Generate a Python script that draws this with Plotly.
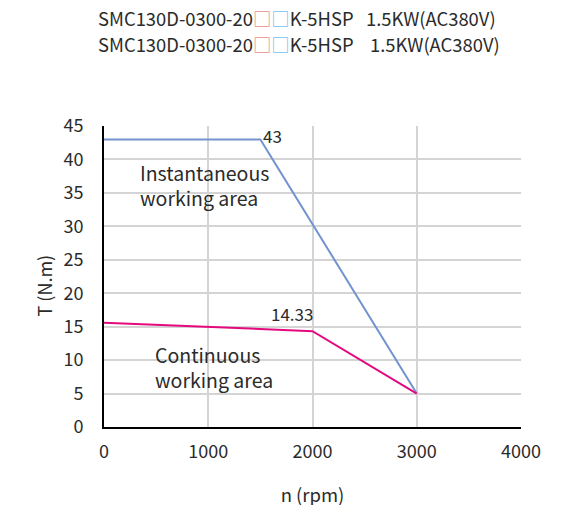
import plotly.graph_objects as go

# instantaneous (peak) torque curve
speed_inst = [0, 1500, 3000]
torque_inst = [43, 43, 5]
# continuous torque curve
speed_cont = [0, 2000, 3000]
torque_cont = [15.6, 14.33, 5]

x_ticks = [0, 1000, 2000, 3000, 4000]
y_ticks = [0, 5, 10, 15, 20, 25, 30, 35, 40, 45]

FONT = "Noto Sans CJK SC"
TXT = "#2b2b2b"
# page body has an 8px default margin, so shift the plot box accordingly
ML, MT, MR, MB = 96, 118, 50, 86
PLOT_W = 563 - ML - MR
PLOT_H = 505 - MT - MB

fig = go.Figure()
fig.add_trace(go.Scatter(x=speed_inst, y=torque_inst, mode="lines",
                         line=dict(color="#7292d0", width=2), showlegend=False))
fig.add_trace(go.Scatter(x=speed_cont, y=torque_cont, mode="lines",
                         line=dict(color="#e5097f", width=2), showlegend=False))

sq = ('<span style="color:#f08a8a">□</span>'
      '<span style="color:#6cc4ee">□</span>')
sp = "\u00a0"
titles = [
    "SMC130D-0300-20" + sq + "K-5HSP" + sp * 3 + "1.5KW(AC380V)",
    "SMC130D-0300-20" + sq + "K-5HSP" + sp * 4 + "1.5KW(AC380V)",
]
for i, t in enumerate(titles):
    fig.add_annotation(text=t, xref="paper", yref="paper", x=-0.019, y=1.0 + (108 - 26 * i) / PLOT_H,
                       xanchor="left", yanchor="middle", showarrow=False,
                       font=dict(size=18.4, color=TXT, family=FONT))

# y axis title (sits a little below the plot centre in the reference)
fig.add_annotation(text="T (N.m)", xref="paper", yref="paper", x=-61 / PLOT_W, y=0.5 - 9 / PLOT_H,
                   textangle=-90, xanchor="center", yanchor="middle", showarrow=False,
                   font=dict(size=18, color=TXT, family=FONT))

# data labels
fig.add_annotation(x=speed_inst[1], y=torque_inst[1], text=str(torque_inst[1]), showarrow=False,
                   xanchor="left", yanchor="middle", xshift=1, yshift=4,
                   font=dict(size=17, color=TXT, family=FONT))
fig.add_annotation(x=speed_cont[1], y=torque_cont[1], text=f"{torque_cont[1]:.2f}", showarrow=False,
                   xanchor="right", yanchor="bottom", xshift=2, yshift=3,
                   font=dict(size=17, color=TXT, family=FONT))

# area labels
fig.add_annotation(x=326, y=36.25, text="Instantaneous<br>working area", showarrow=False,
                   xanchor="left", yanchor="middle", align="left",
                   font=dict(size=19.5, color=TXT, family=FONT))
fig.add_annotation(x=470, y=8.9, text="Continuous<br>working area", showarrow=False,
                   xanchor="left", yanchor="middle", align="left",
                   font=dict(size=19.5, color=TXT, family=FONT))

fig.update_layout(
    width=563, height=505,
    margin=dict(l=ML, r=MR, t=MT, b=MB),
    paper_bgcolor="white", plot_bgcolor="white",
    font=dict(family=FONT, color=TXT, size=18),
)
fig.update_xaxes(range=[0, 4000], tickvals=x_ticks, showgrid=True, gridcolor="#d4d4d4", gridwidth=1.5,
                 showline=True, linecolor="black", linewidth=2, zeroline=False, automargin=False,
                 ticklabelstandoff=7, tickfont=dict(size=18),
                 title=dict(text="n (rpm)", standoff=27, font=dict(size=18.5)))
fig.update_yaxes(range=[0, 45], tickvals=y_ticks, showgrid=True, gridcolor="#d4d4d4", gridwidth=1.5,
                 showline=True, linecolor="black", linewidth=2, zeroline=False, automargin=False,
                 ticklabelstandoff=15, tickfont=dict(size=18))

fig.write_html("out.html")
